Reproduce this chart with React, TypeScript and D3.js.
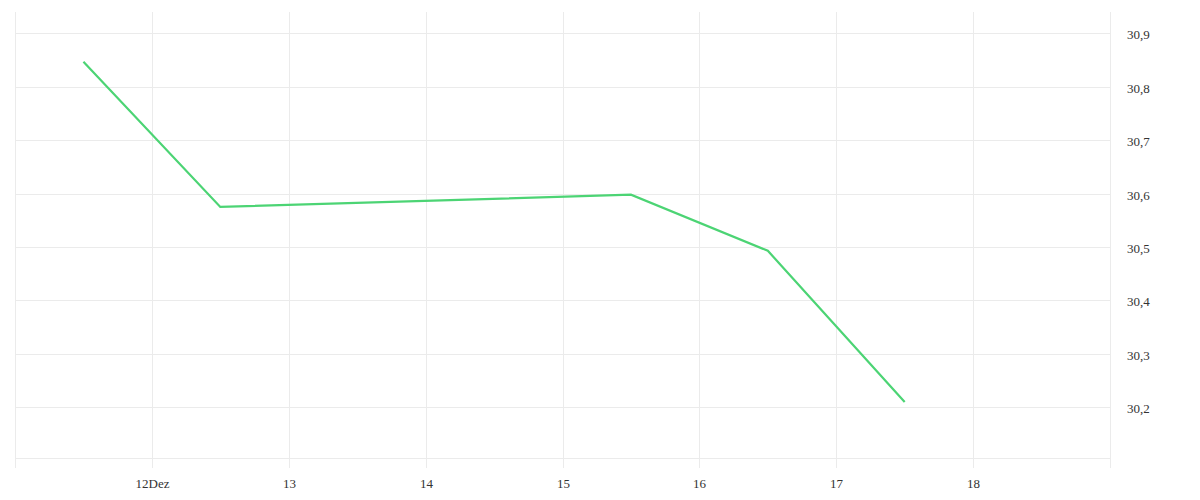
import React from "react";
import * as d3 from "d3";

const dates = ["2023-12-11T12:00", "2023-12-12T12:00", "2023-12-15T12:00", "2023-12-16T12:00", "2023-12-17T12:00"];
const values = [30.847, 30.575, 30.598, 30.493, 30.21];
const yTicks = [30.2, 30.3, 30.4, 30.5, 30.6, 30.7, 30.8, 30.9];
const xTickDays = [11, 12, 13, 14, 15, 16, 17, 18, 19];
const xTickLabels = ["", "12Dez", "13", "14", "15", "16", "17", "18", ""];

export default function App() {
  const W = 1200, H = 500;
  const left = 15, right = 1110, top = 12, bottom = 458;
  const x = d3.scaleTime().domain([new Date(2023, 11, 11), new Date(2023, 11, 19)]).range([left, right]);
  const y = d3.scaleLinear().domain([30.105, 30.94]).range([bottom, top]);
  const parse = (s: string) => new Date(s);
  const pts = dates.map((d, i) => [x(parse(d)), y(values[i])] as [number, number]);
  const line = d3.line()(pts) || "";
  const grid = "#ebebeb";
  const font = "'Liberation Serif', 'DejaVu Serif', serif";
  return (
    <svg width={W} height={H} style={{ position: "absolute", left: 0, top: 0 }}>
      <rect width={W} height={H} fill="#fff" />
      {xTickDays.map((d, i) => {
        const xx = Math.round(x(new Date(2023, 11, d))) + 0.5;
        return (
          <g key={d}>
            <line x1={xx} x2={xx} y1={top} y2={468} stroke={grid} />
            {xTickLabels[i] && (
              <text x={xx} y={488} textAnchor="middle" fontSize={13} fill="#333" fontFamily={font}>
                {xTickLabels[i]}
              </text>
            )}
          </g>
        );
      })}
      {yTicks.map((t) => {
        const yy = Math.round(y(t)) + 0.5;
        return (
          <g key={t}>
            <line x1={left} x2={right} y1={yy} y2={yy} stroke={grid} />
            <text x={1127} y={yy + 5} fontSize={13} fill="#333" fontFamily={font}>
              {t.toFixed(1).replace(".", ",")}
            </text>
          </g>
        );
      })}
      <line x1={left} x2={right} y1={bottom + 0.5} y2={bottom + 0.5} stroke={grid} />
      <path d={line} fill="none" stroke="#4cd474" strokeWidth={2.2} />
    </svg>
  );
}
